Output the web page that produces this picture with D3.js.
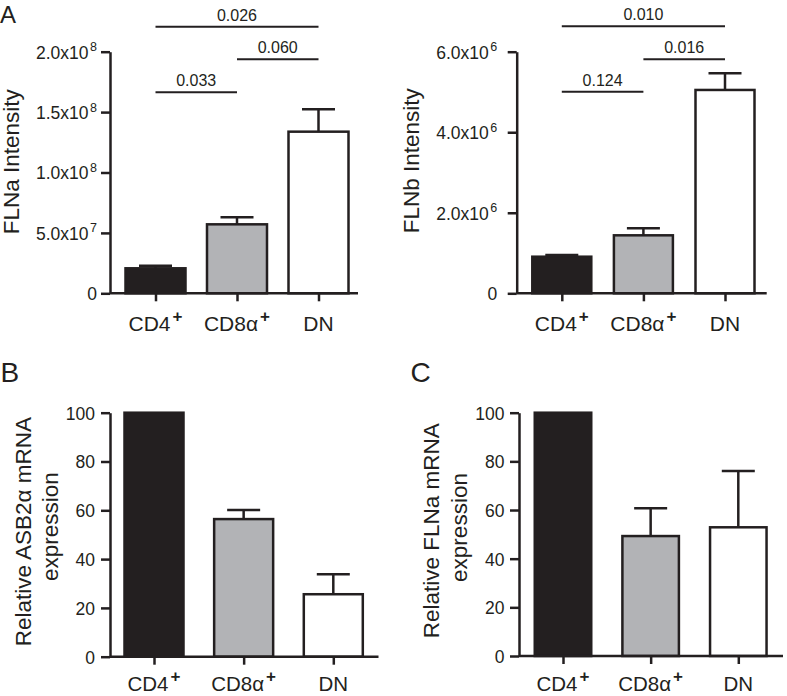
<!DOCTYPE html>
<html>
<head>
<meta charset="utf-8">
<script src="https://cdn.jsdelivr.net/npm/d3@7/dist/d3.min.js"></script>
<style>
  html, body { margin: 0; padding: 0; background: #fff; }
  svg { display: block; }
  text { font-family: "Liberation Sans", Arial, Helvetica, sans-serif; fill: #231f20; }
</style>
</head>
<body>
<svg id="chart" width="787" height="696"></svg>
<script>
// ---------------- DATA ----------------
const categories = ["CD4", "CD8α", "DN"];
const categorySup = ["+", "+", ""];
const barColors = ["#231f20", "#b2b3b6", "#ffffff"];

// Panel A (left): FLNa intensity, mean and SEM
const flnaIntensityMean = [2.07e7, 5.71e7, 1.338e8];
const flnaIntensitySem  = [0.21e7, 0.58e7, 0.185e8];
const flnaIntensityTicks = [0, 5e7, 1e8, 1.5e8, 2e8];
const flnaIntensityP = [
  { from: 0, to: 2, label: "0.026", level: 0 },
  { from: 1, to: 2, label: "0.060", level: 1 },
  { from: 0, to: 1, label: "0.033", level: 2 }
];

// Panel A (right): FLNb intensity
const flnbIntensityMean = [0.909e6, 1.44e6, 5.05e6];
const flnbIntensitySem  = [0.042e6, 0.174e6, 0.415e6];
const flnbIntensityTicks = [0, 2e6, 4e6, 6e6];
const flnbIntensityP = [
  { from: 0, to: 2, label: "0.010", level: 0 },
  { from: 1, to: 2, label: "0.016", level: 1 },
  { from: 0, to: 1, label: "0.124", level: 2 }
];

// Panel B: relative ASB2α mRNA expression
const asb2MrnaMean = [100, 56.4, 25.6];
const asb2MrnaSem  = [0, 3.7, 8.2];
// Panel C: relative FLNa mRNA expression
const flnaMrnaMean = [100, 49.3, 52.9];
const flnaMrnaSem  = [0, 11.4, 23.1];
const mrnaTicks = [0, 20, 40, 60, 80, 100];

// ---------------- LAYOUT ----------------
const INK = "#231f20";
const FONT_TICK = 17.5, FONT_YLAB = 22.5, FONT_SIG = 16;

const panels = [
  { letter: "A", lx: 0, ly: 22.5, lsize: 24,
    mean: flnaIntensityMean, sem: flnaIntensitySem, ticks: flnaIntensityTicks, yMax: 2e8, sci: true,
    xa: 110, xEnd: 358, c0: 155.5, c2: 318.5, barW: 60, y0: 293.3, yTop: 51.7, tickPad: 4,
    xlabDy: 38, xlabSize: 21,
    ylabel: ["FLNa Intensity"], ylabX: [18.5], ylabY: [161.7],
    pvals: flnaIntensityP, sigY: [26.7, 59.3, 92.3] },
  { letter: null,
    mean: flnbIntensityMean, sem: flnbIntensitySem, ticks: flnbIntensityTicks, yMax: 6e6, sci: true,
    xa: 516.7, xEnd: 766.7, c0: 561.8, c2: 725, barW: 59, y0: 293.3, yTop: 51.7, tickPad: 10.5,
    xlabDy: 38, xlabSize: 21,
    ylabel: ["FLNb Intensity"], ylabX: [418.5], ylabY: [160.8],
    pvals: flnbIntensityP, sigY: [26.2, 59.3, 91.7] },
  { letter: "B", lx: 0.5, ly: 381.7, lsize: 28,
    mean: asb2MrnaMean, sem: asb2MrnaSem, ticks: mrnaTicks, yMax: 100, sci: false,
    xa: 110, xEnd: 378.5, c0: 154, c2: 333.3, barW: 59, y0: 656.7, yTop: 412.7, tickPad: 6,
    xlabDy: 34.5, xlabSize: 20.5,
    ylabel: ["Relative ASB2α mRNA", "expression"], ylabX: [31, 58.4], ylabY: [531.7, 526.7],
    pvals: [], sigY: [] },
  { letter: "C", lx: 410.5, ly: 381.7, lsize: 28,
    mean: flnaMrnaMean, sem: flnaMrnaSem, ticks: mrnaTicks, yMax: 100, sci: false,
    xa: 519, xEnd: 783, c0: 563, c2: 738.3, barW: 56.5, y0: 656, yTop: 412.7, tickPad: 5.5,
    xlabDy: 35, xlabSize: 20.5,
    ylabel: ["Relative FLNa mRNA", "expression"], ylabX: [439.4, 466.7], ylabY: [530.8, 527.5],
    pvals: [], sigY: [] }
];

const svg = d3.select("#chart");

function sciParts(v) {
  if (v === 0) return null;
  const e = Math.floor(Math.log10(v) + 1e-9);
  const m = v / Math.pow(10, e);
  return { m: m.toFixed(1), e: String(e) };
}

panels.forEach(p => {
  const g = svg.append("g");

  if (p.letter) {
    g.append("text").attr("x", p.lx).attr("y", p.ly)
      .attr("font-size", p.lsize).text(p.letter);
  }

  const x = d3.scalePoint().domain(categories).range([p.c0, p.c2]);
  const y = d3.scaleLinear().domain([0, p.yMax]).range([p.y0, p.yTop]);

  // Bars
  g.selectAll("rect.bar").data(categories).join("rect")
    .attr("class", "bar")
    .attr("x", (d) => x(d) - p.barW / 2)
    .attr("width", p.barW)
    .attr("y", (d, i) => y(p.mean[i]))
    .attr("height", (d, i) => y(0) - y(p.mean[i]))
    .attr("fill", (d, i) => barColors[i])
    .attr("stroke", INK).attr("stroke-width", 2.5);

  // Error bars (upper only, with cap)
  const capW = 33;
  categories.forEach((c, i) => {
    if (!p.sem[i]) return;
    const cx = x(c), yt = y(p.mean[i] + p.sem[i]);
    g.append("line").attr("x1", cx).attr("x2", cx)
      .attr("y1", y(p.mean[i])).attr("y2", yt)
      .attr("stroke", INK).attr("stroke-width", 2.5);
    g.append("line").attr("x1", cx - capW / 2).attr("x2", cx + capW / 2)
      .attr("y1", yt).attr("y2", yt)
      .attr("stroke", INK).attr("stroke-width", 2.5);
  });

  // Y axis
  const yAxis = d3.axisLeft(y).tickValues(p.ticks).tickSize(9).tickSizeOuter(0)
    .tickPadding(p.tickPad);
  const ya = g.append("g").attr("transform", `translate(${p.xa},0)`).call(yAxis);
  ya.attr("font-family", null).attr("font-size", null);
  ya.select(".domain").attr("stroke", INK).attr("stroke-width", 2.5);
  ya.selectAll(".tick line").attr("stroke", INK).attr("stroke-width", 2.5);
  ya.selectAll(".tick text")
    .attr("font-size", FONT_TICK).attr("fill", INK)
    .attr("dy", "0.37em")
    .each(function(d) {
      const t = d3.select(this);
      if (p.sci && d !== 0) {
        const s = sciParts(d);
        t.text(null);
        t.append("tspan").text(s.m + "x10");
        t.append("tspan").attr("font-size", 12.5).attr("dy", "-0.6em").attr("dx", 1.5).text(s.e);
      } else {
        t.text(d3.format("d")(d));
      }
    });

  // X axis line (baseline)
  g.append("line").attr("x1", p.xa).attr("x2", p.xEnd)
    .attr("y1", p.y0).attr("y2", p.y0)
    .attr("stroke", INK).attr("stroke-width", 2.5);

  const xAxis = d3.axisBottom(x).tickSize(8).tickSizeOuter(0).tickPadding(0);
  const xa = g.append("g").attr("transform", `translate(0,${p.y0})`).call(xAxis);
  xa.select(".domain").remove();
  xa.selectAll(".tick line").attr("stroke", INK).attr("stroke-width", 2.5);
  xa.selectAll(".tick text").remove();
  categories.forEach((c, i) => {
    const t = g.append("text")
      .attr("x", x(c)).attr("y", p.y0 + p.xlabDy)
      .attr("text-anchor", "middle")
      .attr("font-size", p.xlabSize);
    t.append("tspan").text(c);
    if (categorySup[i]) {
      t.append("tspan").attr("font-size", 17).attr("font-weight", "bold")
        .attr("dx", 2).attr("dy", -9).text(categorySup[i]);
    }
  });

  // Y label
  p.ylabel.forEach((lab, k) => {
    g.append("text")
      .attr("transform", `translate(${p.ylabX[k]},${p.ylabY[k]}) rotate(-90)`)
      .attr("text-anchor", "middle")
      .attr("font-size", FONT_YLAB)
      .text(lab);
  });

  // Significance annotations
  p.pvals.forEach(s => {
    const yy = p.sigY[s.level];
    const x1 = x(categories[s.from]), x2 = x(categories[s.to]);
    g.append("line").attr("x1", x1).attr("x2", x2)
      .attr("y1", yy).attr("y2", yy)
      .attr("stroke", INK).attr("stroke-width", 2);
    g.append("text").attr("x", (x1 + x2) / 2).attr("y", yy - 6)
      .attr("text-anchor", "middle").attr("font-size", FONT_SIG)
      .text(s.label);
  });
});
</script>
</body>
</html>
